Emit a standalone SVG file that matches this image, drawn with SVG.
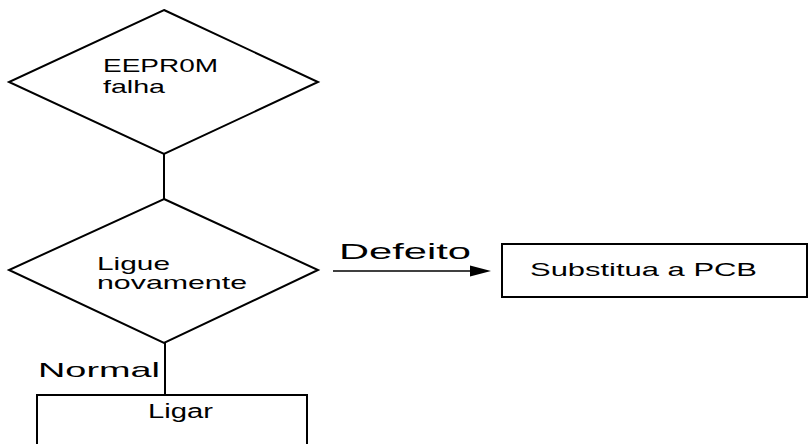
<svg xmlns="http://www.w3.org/2000/svg" width="809" height="444" viewBox="0 0 809 444">
<style>
.shape{fill:#fff;stroke:#000;stroke-width:2}
.conn{stroke:#000;stroke-width:2;fill:none}
.t{font-family:"Liberation Sans",Arial,sans-serif;fill:#000}
</style>
<rect width="809" height="444" fill="#fff"/>
<g id="connectors">
<line class="conn" x1="164" y1="154" x2="164" y2="200"/>
<line class="conn" x1="165" y1="343" x2="165" y2="395"/>
<path d="M333,271 L480,271" stroke="#000" stroke-width="1.5" fill="none"/>
<polygon points="470,265.5 491,271 470,276.5" fill="#000"/>
</g>
<g id="eeprom">
<polygon class="shape" points="164,10 318,82 164,154 9,82"/>
<text class="t" x="103" y="72" font-size="19" textLength="115" lengthAdjust="spacingAndGlyphs">EEPR0M</text>
<text class="t" x="103" y="93" font-size="19" textLength="62" lengthAdjust="spacingAndGlyphs">falha</text>
</g>
<g id="ligue">
<polygon class="shape" points="164,199 318,270 164,343 9,270"/>
<text class="t" x="97" y="270" font-size="19" textLength="73" lengthAdjust="spacingAndGlyphs">Ligue</text>
<text class="t" x="97" y="289" font-size="19" textLength="150" lengthAdjust="spacingAndGlyphs">novamente</text>
</g>
<g id="substitua">
<rect class="shape" x="502" y="244" width="305" height="53"/>
<text class="t" x="530" y="276" font-size="18" textLength="227" lengthAdjust="spacingAndGlyphs">Substitua a PCB</text>
</g>
<g id="ligar">
<rect class="shape" x="37" y="395" width="270" height="60"/>
<text class="t" x="148" y="418" font-size="20" textLength="65" lengthAdjust="spacingAndGlyphs">Ligar</text>
</g>
<g id="labels">
<text class="t" x="339" y="259" font-size="22" textLength="132" lengthAdjust="spacingAndGlyphs">Defeito</text>
<text class="t" x="38" y="377" font-size="21" textLength="122" lengthAdjust="spacingAndGlyphs">Normal</text>
</g>
</svg>
